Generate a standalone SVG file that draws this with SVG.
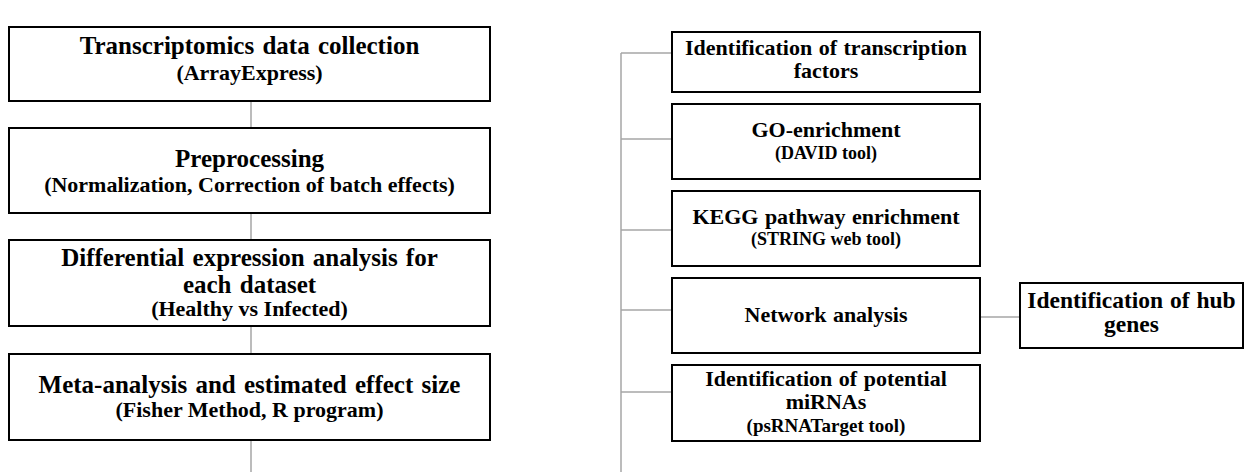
<svg xmlns="http://www.w3.org/2000/svg" width="1244" height="472" viewBox="0 0 1244 472">
<style>
.box{fill:#fff;stroke:#000;stroke-width:2}
.t{font-family:"Liberation Serif","Times New Roman",serif;font-weight:bold;fill:#000;text-anchor:middle}
.lt{font-size:25px;word-spacing:2px}
.ls{font-size:22px}
.rt{font-size:22px;word-spacing:1px}
.rs{font-size:18px}
.c{stroke:#a6a6a6;stroke-width:1.5;fill:none}
</style>
<rect width="1244" height="472" fill="#fff"/>
<g id="connectors">
<line class="c" x1="251" y1="101" x2="251" y2="128"/>
<line class="c" x1="251" y1="213" x2="251" y2="240"/>
<line class="c" x1="251" y1="326" x2="251" y2="354"/>
<line class="c" x1="251" y1="440" x2="251" y2="472"/>
<line class="c" x1="621" y1="53" x2="621" y2="472"/>
<line class="c" x1="621" y1="53" x2="672" y2="53"/>
<line class="c" x1="621" y1="139" x2="672" y2="139"/>
<line class="c" x1="621" y1="230" x2="672" y2="230"/>
<line class="c" x1="621" y1="310" x2="672" y2="310"/>
<line class="c" x1="621" y1="392" x2="672" y2="392"/>
<line class="c" x1="980" y1="317" x2="1020" y2="317"/>
</g>
<g id="n1">
<rect class="box" x="9" y="27" width="481" height="74"/>
<text class="t lt" x="249.5" y="54">Transcriptomics data collection</text>
<text class="t ls" x="249.5" y="80">(ArrayExpress)</text>
</g>
<g id="n2">
<rect class="box" x="9" y="128" width="481" height="85"/>
<text class="t lt" x="249.5" y="167">Preprocessing</text>
<text class="t ls" x="249.5" y="192">(Normalization, Correction of batch effects)</text>
</g>
<g id="n3">
<rect class="box" x="9" y="240" width="481" height="86"/>
<text class="t lt" x="249.5" y="266">Differential expression analysis for</text>
<text class="t lt" x="249.5" y="293">each dataset</text>
<text class="t ls" x="249.5" y="316">(Healthy vs Infected)</text>
</g>
<g id="n4">
<rect class="box" x="9" y="354" width="481" height="86"/>
<text class="t lt" x="249.5" y="393">Meta-analysis and estimated effect size</text>
<text class="t ls" x="249.5" y="417">(Fisher Method, R  program)</text>
</g>
<g id="r1">
<rect class="box" x="672" y="32" width="308" height="60"/>
<text class="t rt" x="826" y="55">Identification of transcription</text>
<text class="t rt" x="826" y="78">factors</text>
</g>
<g id="r2">
<rect class="box" x="672" y="104" width="308" height="75"/>
<text class="t rt" x="826" y="137">GO-enrichment</text>
<text class="t rs" x="826" y="159">(DAVID tool)</text>
</g>
<g id="r3">
<rect class="box" x="672" y="191" width="308" height="75"/>
<text class="t rt" x="826" y="224">KEGG pathway enrichment</text>
<text class="t rs" x="826" y="245">(STRING web tool)</text>
</g>
<g id="r4">
<rect class="box" x="672" y="278" width="308" height="75"/>
<text class="t rt" x="826" y="322">Network analysis</text>
</g>
<g id="r5">
<rect class="box" x="672" y="365" width="308" height="76"/>
<text class="t rt" x="826" y="386">Identification of potential</text>
<text class="t rt" x="826" y="409">miRNAs</text>
<text class="t" style="font-size:19px" x="826" y="432">(psRNATarget tool)</text>
</g>
<g id="hub">
<rect class="box" x="1020" y="283" width="223" height="65"/>
<text class="t" style="font-size:23.5px;word-spacing:1px" x="1131.5" y="308">Identification of hub</text>
<text class="t" style="font-size:23.5px" x="1131.5" y="332">genes</text>
</g>
</svg>
